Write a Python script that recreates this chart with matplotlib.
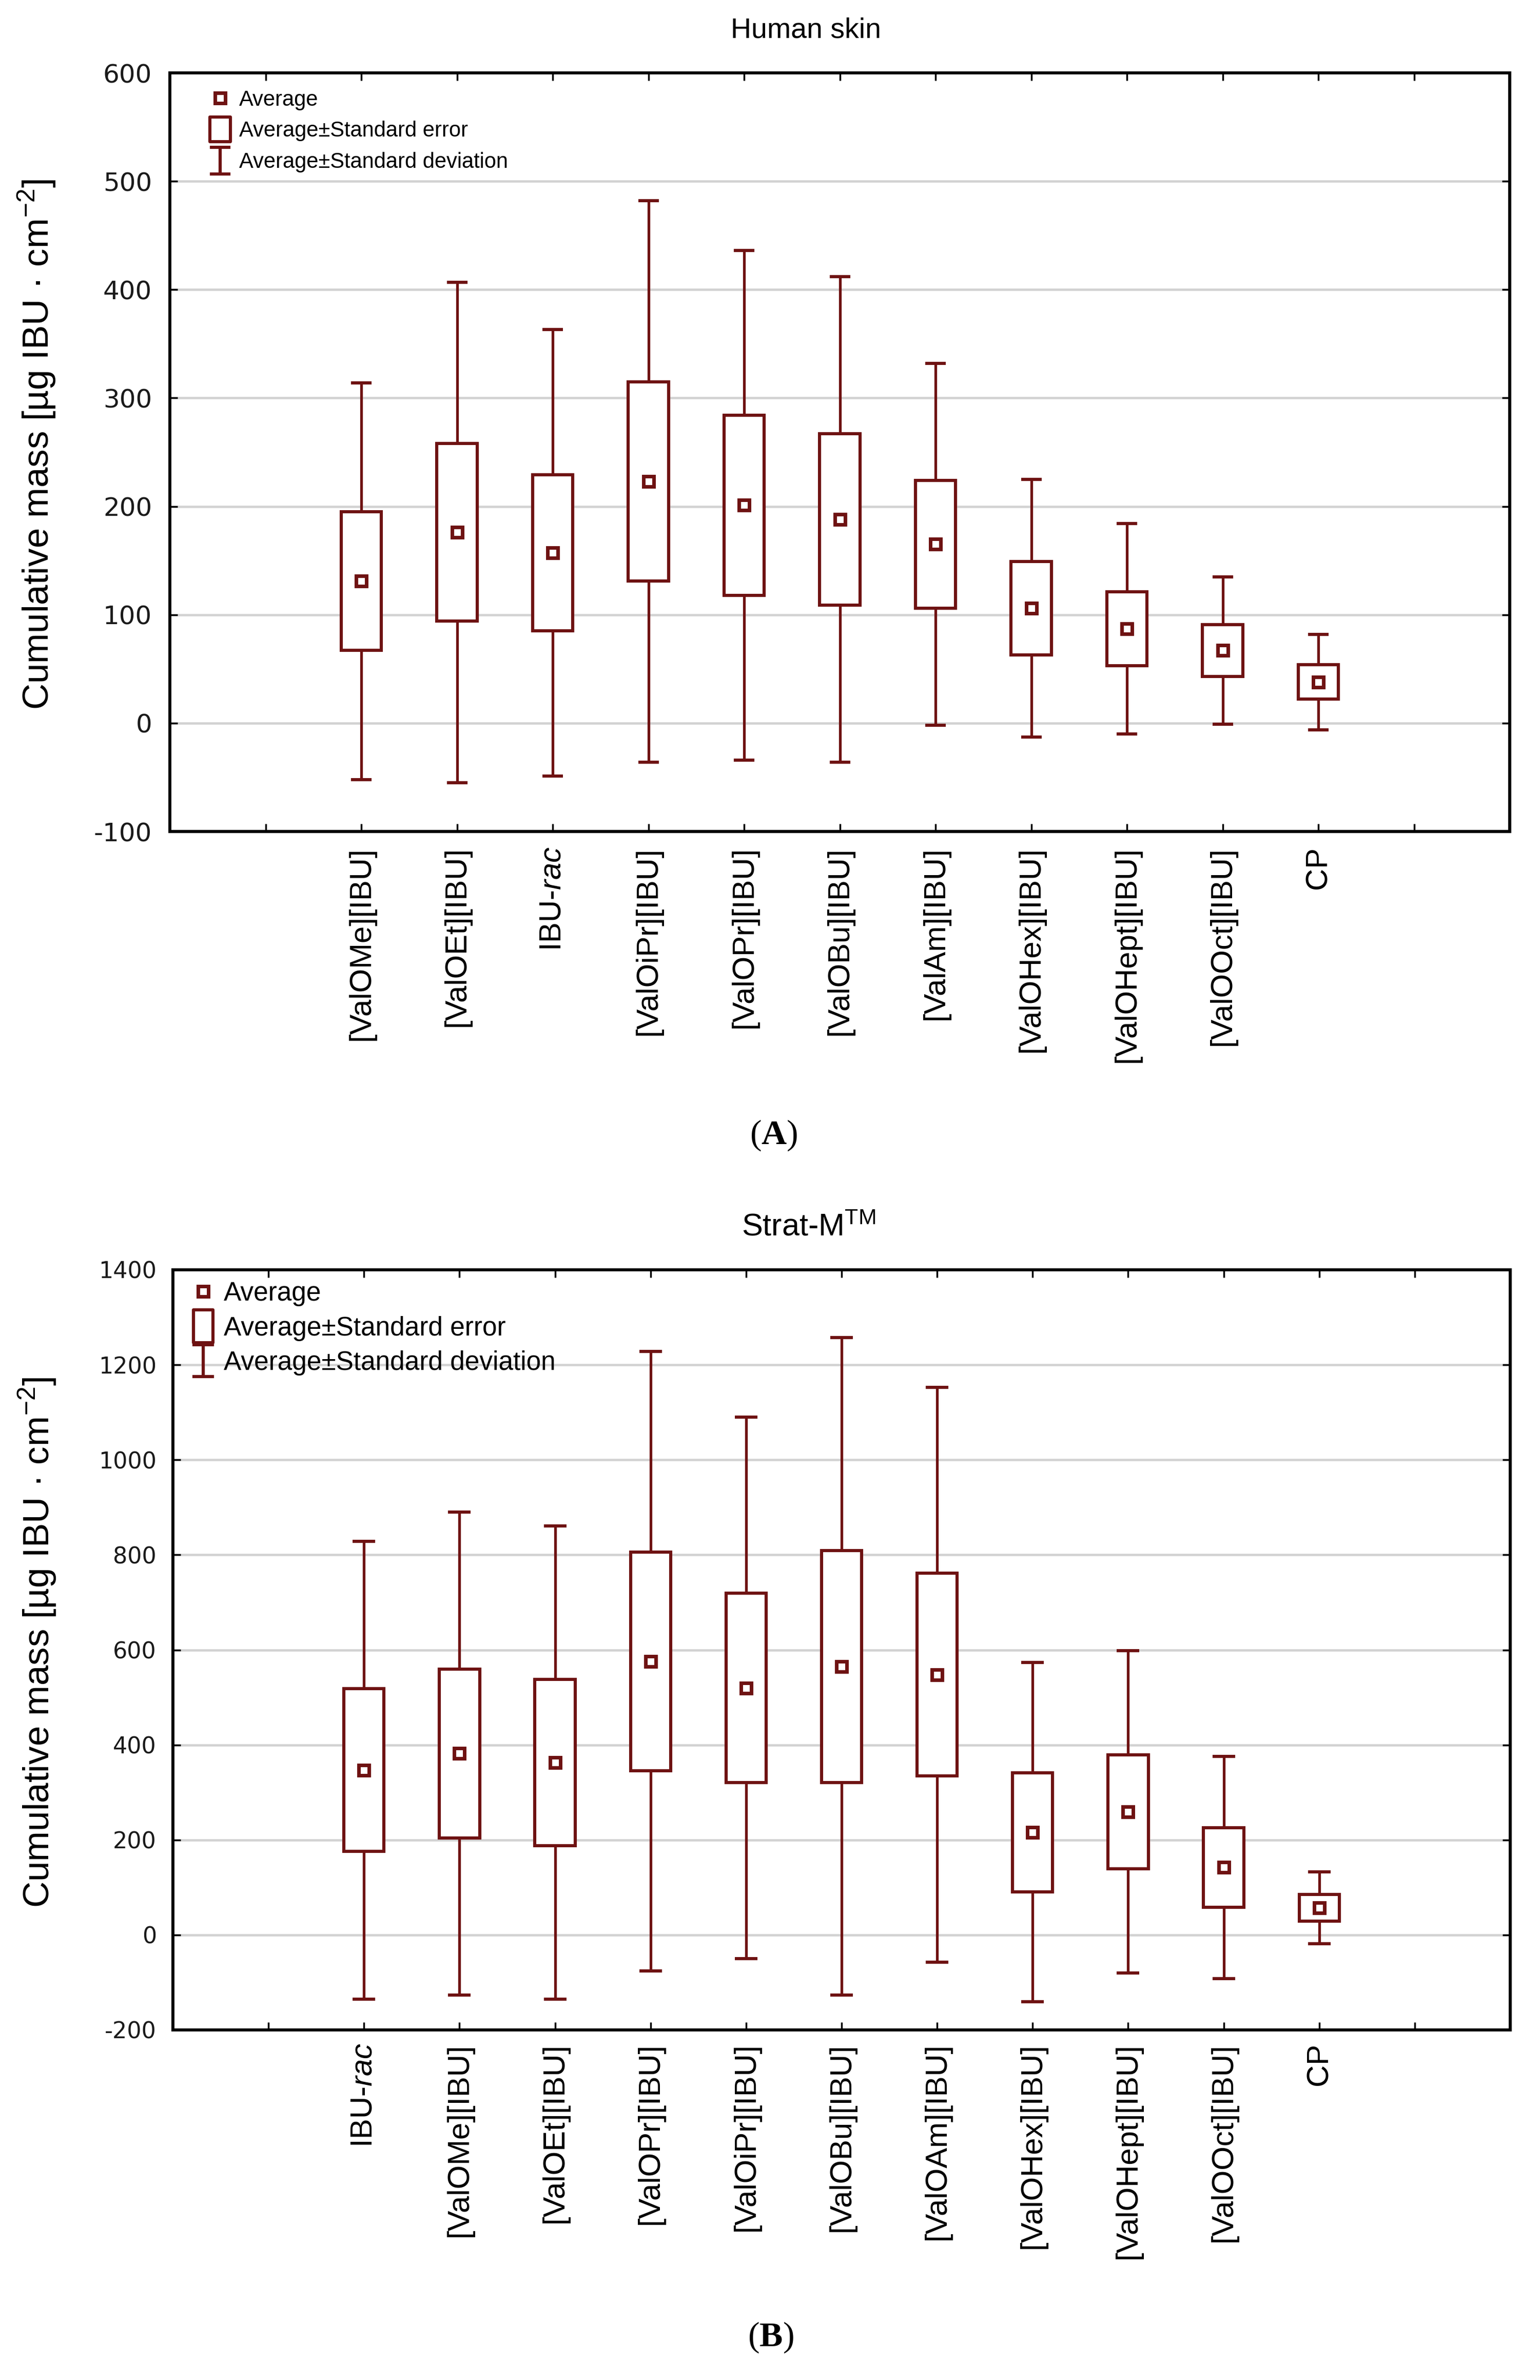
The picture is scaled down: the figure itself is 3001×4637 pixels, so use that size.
import matplotlib
matplotlib.use('Agg')
import matplotlib.pyplot as plt
from matplotlib.path import Path
from matplotlib.lines import Line2D
import numpy as np

plt.rcParams['font.family'] = ['Liberation Sans', 'DejaVu Sans']
plt.rcParams['mathtext.fontset'] = 'custom'
plt.rcParams['mathtext.rm'] = 'Liberation Sans'
plt.rcParams['mathtext.it'] = 'Liberation Sans:italic'
plt.rcParams['mathtext.bf'] = 'Liberation Serif:bold'

COLOR = '#6e1212'

# ---------------- data (A) Human skin ----------------
labels_a = ['[ValOMe][IBU]', '[ValOEt][IBU]', r'IBU-$\it{rac}$', '[ValOiPr][IBU]',
            '[ValOPr][IBU]', '[ValOBu][IBU]', '[ValAm][IBU]', '[ValOHex][IBU]',
            '[ValOHept][IBU]', '[ValOOct][IBU]', 'CP']
mean_a = [131, 176, 157, 223, 201, 188, 165, 106, 87, 67, 38]
se_a = [64, 82, 72, 92, 83, 79, 59, 43, 34, 24, 16]
sd_a = [183, 231, 206, 259, 235, 224, 167, 119, 97, 68, 44]
yticks_a = [-100, 0, 100, 200, 300, 400, 500, 600]

# ---------------- data (B) Strat-M ----------------
labels_b = [r'IBU-$\it{rac}$', '[ValOMe][IBU]', '[ValOEt][IBU]', '[ValOPr][IBU]',
            '[ValOiPr][IBU]', '[ValOBu][IBU]', '[ValOAm][IBU]', '[ValOHex][IBU]',
            '[ValOHept][IBU]', '[ValOOct][IBU]', 'CP']
mean_b = [347, 382, 363, 576, 520, 565, 548, 216, 259, 142, 57]
se_b = [171, 178, 175, 230, 199, 244, 213, 125, 120, 84, 28]
sd_b = [482, 508, 498, 652, 570, 692, 605, 357, 339, 234, 76]
yticks_b = [-200, 0, 200, 400, 600, 800, 1000, 1200, 1400]

legend_labels = ['Average', 'Average\u00b1Standard error', 'Average\u00b1Standard deviation']

W, H = 3001, 4637
fig = plt.figure(figsize=(W / 100, H / 100), dpi=100)


def rect_marker(aspect):
    return Path([(-aspect / 2, -0.5), (aspect / 2, -0.5), (aspect / 2, 0.5),
                 (-aspect / 2, 0.5), (-aspect / 2, -0.5)],
                [Path.MOVETO, Path.LINETO, Path.LINETO, Path.LINETO, Path.CLOSEPOLY])


def ibeam_marker(aspect):
    a = aspect / 2
    return Path([(-a, 0.5), (a, 0.5), (0, 0.5), (0, -0.5), (-a, -0.5), (a, -0.5)],
                [Path.MOVETO, Path.LINETO, Path.MOVETO, Path.LINETO, Path.MOVETO, Path.LINETO])


def panel(rect, labels, mean, se, sd, yticks, ytick_fs, ytick_pad, xtick_pad,
          leg_fs, leg_anchor, leg_hl, leg_tp, leg_ls, box_ms, box_asp, ib_ms, ib_asp,
          ylabel_x, capsize):
    ax = fig.add_axes(rect)
    n = len(labels)
    x = np.arange(2, 2 + n)
    mean = np.array(mean, dtype=float)
    se = np.array(se, dtype=float)
    sd = np.array(sd, dtype=float)

    ax.set_xlim(0, n + 3)
    ax.set_ylim(yticks[0], yticks[-1])
    ax.set_yticks(yticks)
    ax.set_yticklabels([str(v) for v in yticks], family='DejaVu Sans', color='#1a1a1a')
    ax.yaxis.grid(True, color='#d2d2d2', lw=3.3)
    ax.set_axisbelow(True)

    ax.errorbar(x, mean, yerr=sd, fmt='none', ecolor=COLOR, elinewidth=3.8,
                capsize=capsize, capthick=4.4, zorder=2)
    ax.bar(x, 2 * se, bottom=mean - se, width=0.42, color='white',
           edgecolor=COLOR, linewidth=4.4, zorder=3)
    ax.plot(x, mean, ls='none', marker='s', ms=15, mfc='white', mec=COLOR,
            mew=5, zorder=4)

    ax.set_xticks(np.arange(1, n + 3))
    ax.set_xticklabels([''] + labels + [''], rotation=90, fontsize=43)
    ax.tick_params(axis='x', direction='in', top=True, bottom=True, length=11,
                   width=2.5, pad=xtick_pad, color='black')
    ax.tick_params(axis='y', direction='in', left=True, right=True, length=11,
                   width=2.5, pad=ytick_pad, labelsize=ytick_fs)
    for sp in ax.spines.values():
        sp.set_linewidth(4.3)
        sp.set_color('black')

    ax.set_ylabel('Cumulative mass [\u00b5g IBU \u00b7 cm$^{-2}$]', fontsize=51)
    ax.yaxis.set_label_coords(ylabel_x, 0.51)

    handles = [
        Line2D([], [], ls='none', marker='s', ms=14, mfc='white', mec=COLOR, mew=5),
        Line2D([], [], ls='none', marker=rect_marker(box_asp), ms=box_ms, mfc='white',
               mec=COLOR, mew=4.4),
        Line2D([], [], ls='none', marker=ibeam_marker(ib_asp), ms=ib_ms, mfc='none',
               mec=COLOR, mew=4.4),
    ]
    ax.legend(handles, legend_labels, loc='upper left', bbox_to_anchor=leg_anchor,
              frameon=False, numpoints=1, handlelength=leg_hl, handletextpad=leg_tp,
              labelspacing=leg_ls, borderaxespad=0, borderpad=0, fontsize=leg_fs)
    return ax


axA = panel([331 / W, 1 - 1620 / H, (2942 - 331) / W, (1620 - 142) / H],
            labels_a, mean_a, se_a, sd_a, yticks_a, ytick_fs=36, ytick_pad=25,
            xtick_pad=21, leg_fs=30, leg_anchor=(0.0295, 0.978), leg_hl=1.0,
            leg_tp=0.4, leg_ls=0.5, box_ms=34, box_asp=0.85, ib_ms=38, ib_asp=0.75,
            ylabel_x=-0.084, capsize=14.4)

axB = panel([337 / W, 1 - 3955 / H, (2943 - 337) / W, (3955 - 2474) / H],
            labels_b, mean_b, se_b, sd_b, yticks_b, ytick_fs=32, ytick_pad=23,
            xtick_pad=18, leg_fs=37, leg_anchor=(0.0146, 0.985), leg_hl=0.8,
            leg_tp=0.38, leg_ls=0.36, box_ms=46, box_asp=0.6, ib_ms=44, ib_asp=0.68,
            ylabel_x=-0.086, capsize=15.5)

fig.text(1570 / W, 1 - 59 / H, 'Human skin', ha='center', va='center', fontsize=40)
fig.text(1576 / W, 1 - 2392 / H, r'Strat-M$^{\mathrm{TM}}$', ha='center', va='center',
         fontsize=44)
fig.text(1508 / W, 1 - 2212 / H, r'($\mathbf{A}$)', ha='center', va='center',
         fontsize=49, family='Liberation Serif')
fig.text(1502 / W, 1 - 4554 / H, r'($\mathbf{B}$)', ha='center', va='center',
         fontsize=49, family='Liberation Serif')

fig.savefig('out.png', dpi=100, facecolor='white')
